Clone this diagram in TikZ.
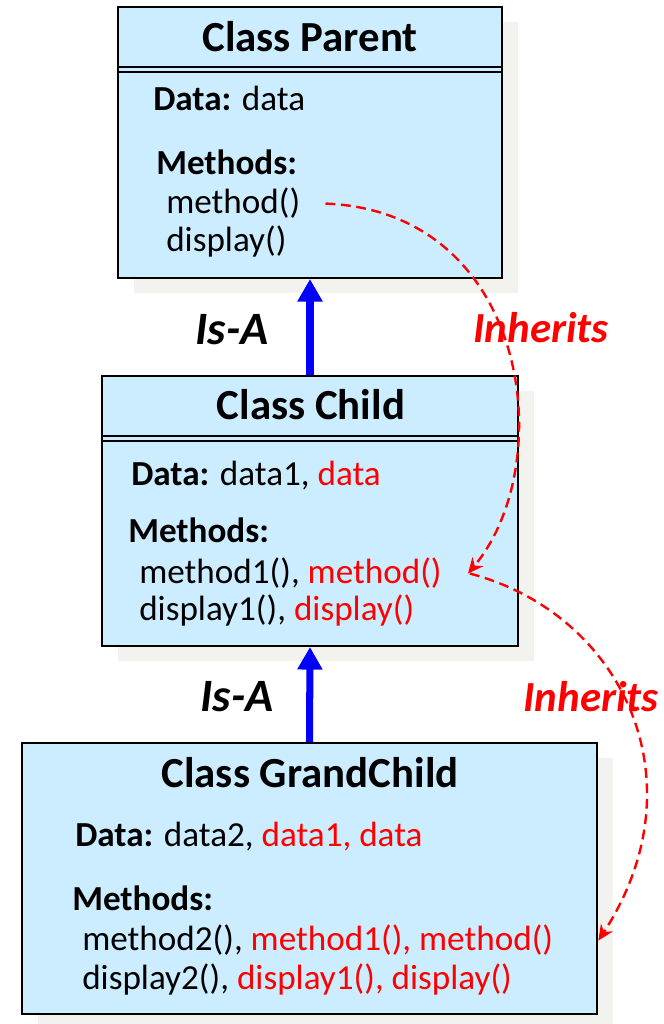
\documentclass[tikz,border=0pt]{standalone}
\usepackage{fontspec}
\setmainfont{Carlito}
\usepackage{tikz}
\usetikzlibrary{arrows.meta, shadows, positioning}

\definecolor{boxblue}{RGB}{204,236,255}
\definecolor{shadowgray}{RGB}{242,242,238}
\definecolor{isablue}{RGB}{0,0,255}
\definecolor{inhred}{RGB}{255,0,0}
\newcommand{\inhtext}[1]{\textcolor{inhred}{#1}}

\begin{document}
\begin{tikzpicture}

    % Styles
    \tikzset{
        classbox/.style={rectangle, draw, line width=1.5pt, fill=boxblue, inner sep=0pt,
            drop shadow={shadow xshift=0.4cm, shadow yshift=-0.38cm, fill=shadowgray, opacity=1}},
        titletext/.style={anchor=base, inner sep=0pt, font=\fontsize{30.5}{36}\selectfont\bfseries},
        bodytext/.style={anchor=base west, inner sep=0pt, font=\fontsize{25}{30}\selectfont},
        labeltext/.style={inner sep=0pt, font=\fontsize{30.5}{36}\selectfont\bfseries\itshape},
        divider/.style={line width=1.2pt},
        isa/.style={-{Triangle[length=16pt, width=17pt]}, line width=5pt, isablue},
        inherits/.style={-{Stealth[length=11pt, width=10pt]}, line width=1.7pt, inhred, dash pattern=on 7pt off 4pt}
    }

    \useasboundingbox (0,0) rectangle (16.6,25.6);

    % Class boxes
    \node[classbox, minimum width=9.6cm, minimum height=6.775cm] (parent) at (7.75, 22.0375) {};
    \node[classbox, minimum width=10.4cm, minimum height=6.75cm] (child) at (7.75, 12.825) {};
    \node[classbox, minimum width=14.375cm, minimum height=6.775cm] (grand) at (7.7375, 3.6375) {};

    % Title dividers
    \foreach \b in {parent, child} {
        \draw[divider] ([yshift=-1.52cm]\b.north west) -- ([yshift=-1.52cm]\b.north east);
        \draw[divider] ([yshift=-1.65cm]\b.north west) -- ([yshift=-1.65cm]\b.north east);
    }

    % Class Parent
    \node[titletext] (ptitle) at (7.75, 24.3) {Class Parent};
    \node[bodytext] (pdata) at (3.825, 22.825) {\textbf{Data:} data};
    \node[bodytext] (pmhead) at (3.9, 21.225) {\textbf{Methods:}};
    \node[bodytext] (pmeth) at (4.15, 20.25) {method()};
    \node[bodytext] (pdisp) at (4.15, 19.3) {display()};

    % Class Child
    \node[titletext] (ctitle) at (7.775, 15.1) {Class Child};
    \node[bodytext] (cdata) at (3.275, 13.45) {\textbf{Data:} data1, \inhtext{data}};
    \node[bodytext] (cmhead) at (3.2, 12.025) {\textbf{Methods:}};
    \node[bodytext] (cmeth) at (3.475, 11.0) {method1(), \inhtext{method()}};
    \node[bodytext] (cdisp) at (3.475, 10.075) {display1(), \inhtext{display()}};

    % Class GrandChild
    \node[titletext] (gtitle) at (7.75, 5.9) {Class GrandChild};
    \node[bodytext] (gdata) at (1.875, 4.425) {\textbf{Data:} data2, \inhtext{data1, data}};
    \node[bodytext] (gmhead) at (1.8, 2.825) {\textbf{Methods:}};
    \node[bodytext] (gmeth) at (2.05, 1.825) {method2(), \inhtext{method1(), method()}};
    \node[bodytext] (gdisp) at (2.05, 0.85) {display2(), \inhtext{display1(), display()}};

    % Labels
    \node[labeltext, font=\fontsize{33}{38}\selectfont\bfseries\itshape] (isa1) at (5.8, 17.35) {Is-A};
    \node[labeltext, font=\fontsize{33}{38}\selectfont\bfseries\itshape] (isa2) at (5.925, 8.175) {Is-A};
    \node[labeltext, inhred] (inh1) at (13.525, 17.4) {Inherits};
    \node[labeltext, inhred] (inh2) at (14.775, 8.175) {Inherits};

    % Arrows
    \draw[isa] (child.north) -- (parent.south);
    \draw[isa] (grand.north) -- (child.south);
    \draw[inherits] ([xshift=0.625cm]pmeth.east) .. controls +(5.1,-0.2) and +(2.3,2.75) .. ([xshift=0.65cm]cmeth.east);
    \draw[inherits] ([xshift=0.7cm]cmeth.east) .. controls +(3.8,-1.0) and +(2.6,4.0) .. ([xshift=1.125cm]gmeth.east);

\end{tikzpicture}
\end{document}
